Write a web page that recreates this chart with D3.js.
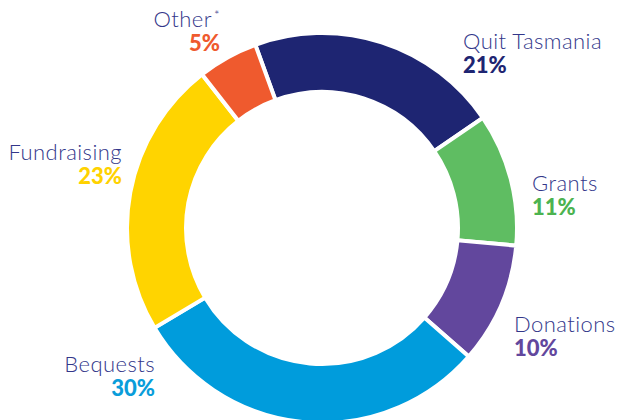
<!DOCTYPE html>
<html>
<head>
<meta charset="utf-8">
<script src="https://cdn.jsdelivr.net/npm/d3@7"></script>
<style>
  html, body { margin: 0; padding: 0; background: #fff; }
  svg { display: block; }
  .name { font-family: Lato, "Open Sans", sans-serif; font-weight: 300; fill: #33378a; letter-spacing: 0.45px; }
  .pct { font-family: Lato, "Open Sans", sans-serif; font-weight: 900; }
</style>
</head>
<body>
<div id="chart"></div>
<script>
const categories = ["Quit Tasmania", "Grants", "Donations", "Bequests", "Fundraising", "Other"];
const shares = [21, 11, 10, 30, 23, 5];
const sliceColors = ["#1e2572", "#5fbd62", "#62479d", "#009cdc", "#ffd400", "#ef5a2e"];
const pctColors = ["#1e2572", "#4cb350", "#62479d", "#0a9dda", "#ffd200", "#ef5a2e"];

// label layout: anchor point + side
const labelPos = [
    { x: 463, y: 49, anchor: "start" },
    { x: 532, y: 191, anchor: "start" },
    { x: 514, y: 332, anchor: "start" },
    { x: 155, y: 372, anchor: "end" },
    { x: 122, y: 160, anchor: "end" },
    { x: 212, y: 27, anchor: "end" }
];

const width = 619, height = 420;
const cx = 322, cy = 228;
const outerR = 195, innerR = 136;

const data = categories.map((c, i) => ({ name: c, value: shares[i], i: i }));

const svg = d3.select("#chart")
    .append("svg")
    .attr("width", width)
    .attr("height", height);

const startA = -20 * Math.PI / 180;
const pie = d3.pie()
    .value(d => d.value)
    .sort(null)
    .startAngle(startA)
    .endAngle(startA + 2 * Math.PI);

const arc = d3.arc()
    .innerRadius(innerR)
    .outerRadius(outerR);

const g = svg.append("g")
    .attr("transform", `translate(${cx},${cy})`);

g.selectAll("path")
    .data(pie(data))
    .enter()
    .append("path")
    .attr("d", arc)
    .attr("fill", d => sliceColors[d.data.i])
    .attr("stroke", "#fff")
    .attr("stroke-width", 4);

const labels = svg.selectAll(".lbl")
    .data(data)
    .enter()
    .append("g")
    .attr("class", "lbl");

labels.append("text")
    .attr("class", "name")
    .attr("x", d => labelPos[d.i].x)
    .attr("y", d => labelPos[d.i].y)
    .attr("text-anchor", d => labelPos[d.i].anchor)
    .style("font-size", "22px")
    .text(d => d.name);

// asterisk on "Other"
labels.filter(d => d.name === "Other")
    .append("text")
    .attr("class", "name")
    .attr("x", d => labelPos[d.i].x + 2)
    .attr("y", d => labelPos[d.i].y - 7)
    .style("font-size", "13px")
    .text("*");

labels.append("text")
    .attr("class", "pct")
    .attr("x", d => labelPos[d.i].x + (d.name === "Other" ? 8 : 0))
    .attr("y", d => labelPos[d.i].y + 24)
    .attr("text-anchor", d => labelPos[d.i].anchor)
    .attr("fill", d => pctColors[d.i])
    .style("font-size", "22px")
    .text(d => `${d.value}%`);
</script>
</body>
</html>
